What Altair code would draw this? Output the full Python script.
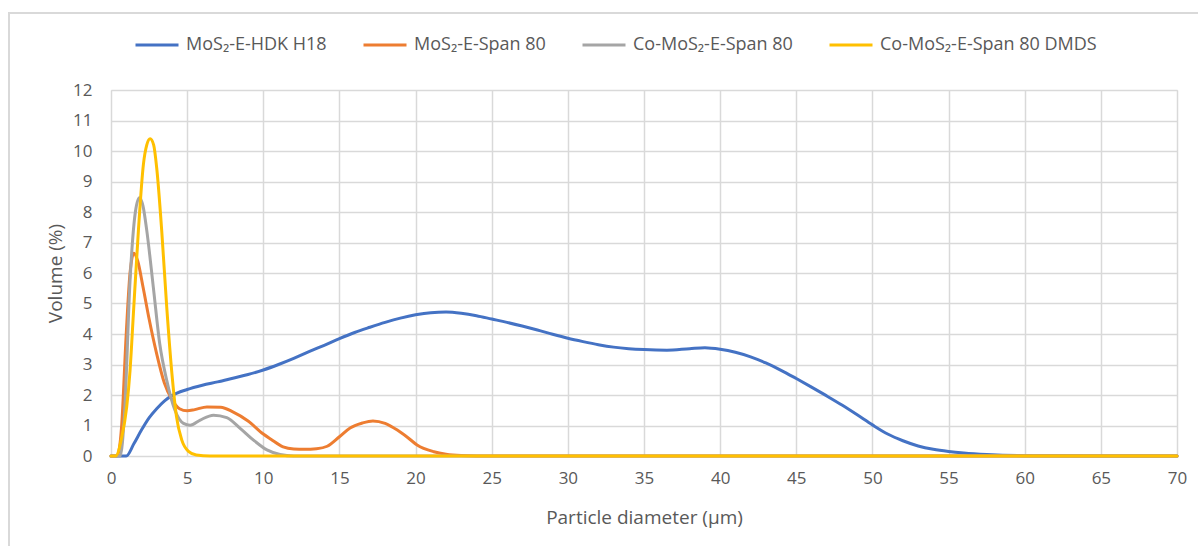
import altair as alt
import pandas as pd

# Particle size distributions (volume %) for the four emulsions
series_names = [
    "MoS₂-E-HDK H18",
    "MoS₂-E-Span 80",
    "Co-MoS₂-E-Span 80",
    "Co-MoS₂-E-Span 80 DMDS",
]
series_colors = ["#4472C4", "#ED7D31", "#A5A5A5", "#FFC000"]

hdk_x = [0, 1.0, 1.5, 2, 2.5, 3, 3.5, 4, 5, 6, 7, 8, 9, 10, 11, 12, 13, 14, 15, 16,
         17, 18, 19, 20, 21, 22, 23, 24, 25, 26, 27, 28, 29, 30, 31, 32, 33, 34, 35,
         36.5, 38, 39, 40, 41, 42, 43, 44, 45, 46, 47, 48, 49, 50, 51, 52, 53, 54,
         55, 56, 57.5, 60, 65, 70]
hdk_y = [0, 0, 0.4, 0.85, 1.25, 1.55, 1.8, 1.98, 2.18, 2.32, 2.43, 2.55, 2.67, 2.82,
         3.0, 3.2, 3.42, 3.63, 3.85, 4.05, 4.22, 4.38, 4.52, 4.63, 4.7, 4.72, 4.68,
         4.6, 4.49, 4.38, 4.26, 4.13, 3.99, 3.86, 3.75, 3.65, 3.57, 3.52, 3.49,
         3.47, 3.52, 3.55, 3.5, 3.4, 3.25, 3.05, 2.81, 2.54, 2.26, 1.97, 1.67, 1.35,
         1.02, 0.72, 0.5, 0.33, 0.22, 0.15, 0.1, 0.05, 0.01, 0, 0]

span_x = [0, 0.4, 0.7, 1.0, 1.25, 1.5, 1.75, 2.1, 2.5, 3, 3.5, 4, 4.5, 5, 5.5, 6.3,
          7.2, 8, 9, 10, 10.5, 11.3, 12, 12.7, 13.5, 14.2, 15, 15.7, 16.5, 17.2, 18,
          18.8, 19.5, 20.1, 21.2, 22, 23, 25, 70]
span_y = [0, 0, 1.0, 4.0, 6.0, 6.65, 6.4, 5.55, 4.5, 3.35, 2.4, 1.85, 1.55, 1.48,
          1.52, 1.61, 1.6, 1.45, 1.15, 0.72, 0.55, 0.3, 0.23, 0.22, 0.24, 0.32, 0.63,
          0.92, 1.08, 1.15, 1.07, 0.85, 0.6, 0.36, 0.14, 0.06, 0.02, 0, 0]

co_x = [0, 0.6, 0.9, 1.25, 1.6, 1.86, 2.1, 2.35, 2.78, 3.2, 3.66, 4.2, 4.76, 5.2,
        5.86, 6.73, 7.6, 8.5, 9.36, 10.24, 11.1, 12, 70]
co_y = [0, 0, 1.5, 5.75, 8.0, 8.47, 8.2, 7.39, 5.53, 3.68, 2.48, 1.5, 1.07, 1.01,
        1.18, 1.34, 1.26, 0.9, 0.52, 0.2, 0.05, 0, 0]

dmds_x = [0, 0.3, 0.7, 1.03, 1.25, 1.47, 1.8, 2.13, 2.35, 2.57, 2.8, 3.0, 3.33, 3.66,
          4.0, 4.3, 4.65, 5.09, 5.6, 6.5, 70]
dmds_y = [0, 0, 0.6, 1.6, 2.8, 4.66, 7.4, 9.57, 10.2, 10.4, 10.2, 9.45, 7.39, 4.88,
          2.7, 1.29, 0.52, 0.15, 0.03, 0, 0]

x_ticks = list(range(0, 75, 5))
y_ticks = list(range(0, 13))

frames = []
for name, xs, ys in zip(series_names,
                        [hdk_x, span_x, co_x, dmds_x],
                        [hdk_y, span_y, co_y, dmds_y]):
    frames.append(pd.DataFrame({"d": xs, "v": ys, "series": name}))
data = pd.concat(frames, ignore_index=True)

FONT = "Open Sans"
TXT = "#595959"
GRID = "#D9D9D9"

color = alt.Color(
    "series:N",
    scale=alt.Scale(domain=series_names, range=series_colors),
    legend=alt.Legend(
        title=None,
        orient="none",
        direction="horizontal",
        legendX=23,
        legendY=-68,
        symbolType="stroke",
        symbolSize=1849,
        symbolStrokeWidth=3,
        labelOffset=6,
        columnPadding=30,
        labelLimit=400,
        labelFont=FONT,
        labelFontSize=18,
        labelColor=TXT,
        padding=0,
    ),
)

x_enc = alt.X(
    "d:Q",
    scale=alt.Scale(domain=[0, 70], nice=False),
    axis=alt.Axis(
        values=x_ticks,
        title="Particle diameter (µm)",
        grid=True,
        gridColor=GRID,
        gridWidth=1.5,
        domain=False,
        ticks=False,
        labelFlush=False,
        labelPadding=14,
        labelFont=FONT,
        labelFontSize=17,
        labelColor=TXT,
        titleFont=FONT,
        titleFontSize=19,
        titleFontWeight="normal",
        titleColor=TXT,
        titleY=61,
        titleBaseline="middle",
    ),
)
y_enc = alt.Y(
    "v:Q",
    scale=alt.Scale(domain=[0, 12], nice=False),
    axis=alt.Axis(
        values=y_ticks,
        title="Volume (%)",
        grid=True,
        gridColor=GRID,
        gridWidth=1.5,
        domain=False,
        ticks=False,
        labelPadding=19,
        labelFont=FONT,
        labelFontSize=17,
        labelColor=TXT,
        titleFont=FONT,
        titleFontSize=19,
        titleFontWeight="normal",
        titleColor=TXT,
        titleX=-56,
        titleY=183,
        titleBaseline="middle",
    ),
)

# outer chart frame
frame = alt.Chart(data).mark_rect(
    fill=None, stroke=GRID, strokeWidth=1.5
).encode(
    x=alt.value(-102), x2=alt.value(1100),
    y=alt.value(-77), y2=alt.value(600),
)

layers = [frame]
for name in series_names:
    layers.append(
        alt.Chart(data)
        .transform_filter(alt.datum.series == name)
        .mark_line(interpolate="monotone", strokeWidth=3, strokeCap="round")
        .encode(x=x_enc, y=y_enc, color=color)
    )

chart = alt.layer(*layers).properties(
    width=1066,
    height=366,
    autosize=alt.AutoSizeParams(type="none"),
    padding={"left": 111, "top": 90, "right": 21, "bottom": 90},
).configure_view(stroke=None).configure(background="white")

chart.save("out.html", embed_options={"renderer": "svg", "actions": False})
